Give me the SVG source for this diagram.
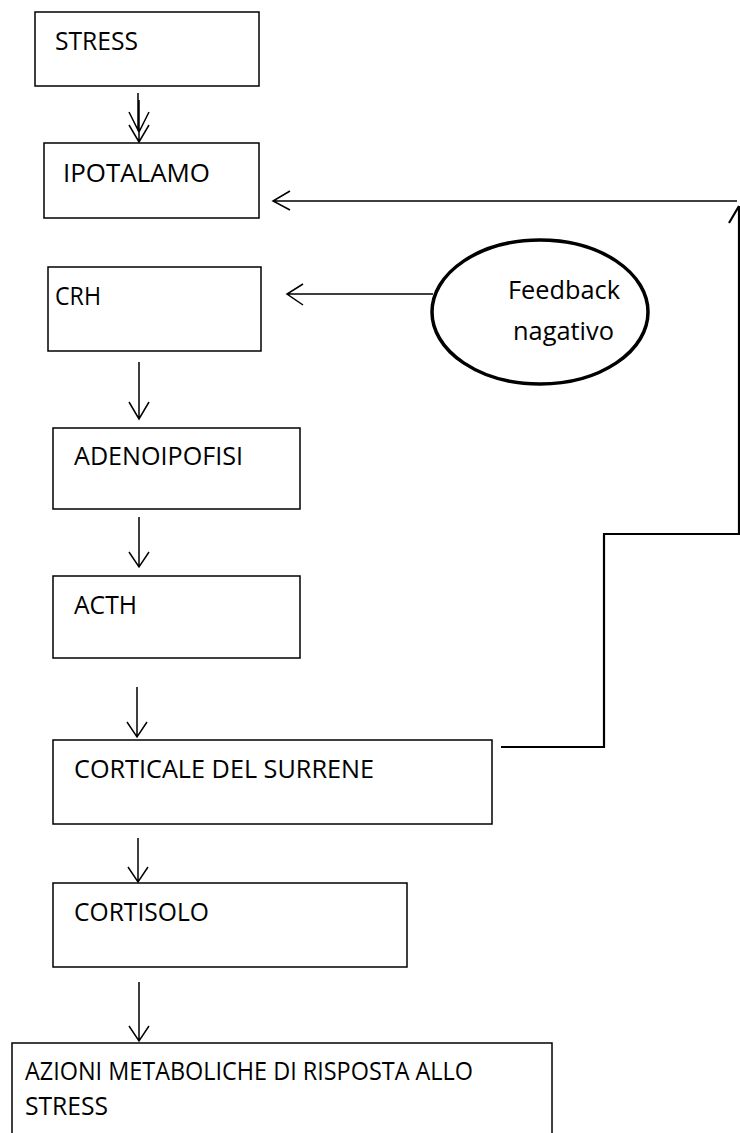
<svg xmlns="http://www.w3.org/2000/svg" width="740" height="1133" viewBox="0 0 740 1133">
<style>
.box{fill:#fff;stroke:#000;stroke-width:1.5}
.t{font-family:"Open Sans","Liberation Sans",sans-serif;font-size:25px;fill:#000}
.arr{fill:none;stroke:#000;stroke-width:1.5}
.fb{fill:none;stroke:#000;stroke-width:2.2}
</style>
<rect width="740" height="1133" fill="#fff"/>
<g id="stress"><rect class="box" x="35" y="12" width="224" height="74"/><text class="t" x="55" y="50" textLength="83" lengthAdjust="spacingAndGlyphs">STRESS</text></g>
<g id="ipotalamo"><rect class="box" x="44" y="143" width="215" height="75"/><text class="t" x="63" y="182" textLength="147" lengthAdjust="spacingAndGlyphs">IPOTALAMO</text></g>
<g id="crh"><rect class="box" x="48" y="267" width="213" height="84"/><text class="t" x="55" y="305" textLength="46" lengthAdjust="spacingAndGlyphs">CRH</text></g>
<g id="adenoipofisi"><rect class="box" x="53" y="428" width="247" height="81"/><text class="t" x="74" y="465" textLength="169" lengthAdjust="spacingAndGlyphs">ADENOIPOFISI</text></g>
<g id="acth"><rect class="box" x="53" y="576" width="247" height="82"/><text class="t" x="74" y="614" textLength="63" lengthAdjust="spacingAndGlyphs">ACTH</text></g>
<g id="corticale"><rect class="box" x="53" y="740" width="439" height="84"/><text class="t" x="74" y="778" textLength="300" lengthAdjust="spacingAndGlyphs">CORTICALE DEL SURRENE</text></g>
<g id="cortisolo"><rect class="box" x="53" y="883" width="354" height="84"/><text class="t" x="74" y="921" textLength="135" lengthAdjust="spacingAndGlyphs">CORTISOLO</text></g>
<g id="azioni"><rect class="box" x="12" y="1043" width="540" height="100"/><text class="t" x="25" y="1080" textLength="448" lengthAdjust="spacingAndGlyphs">AZIONI METABOLICHE DI RISPOSTA ALLO</text><text class="t" x="25" y="1115" textLength="83" lengthAdjust="spacingAndGlyphs">STRESS</text></g>
<g id="feedback"><ellipse cx="540" cy="312" rx="108" ry="72" fill="#fff" stroke="#000" stroke-width="3.5"/><text class="t" x="508" y="299" textLength="112" lengthAdjust="spacingAndGlyphs">Feedback</text><text class="t" x="513" y="340" textLength="101" lengthAdjust="spacingAndGlyphs">nagativo</text></g>
<g id="connectors">
<path class="arr" d="M138 93V131M139 100V142M129 112L139 132L149 112M129 125L139 142L149 125"/>
<path class="arr" d="M139 362V419M129 402L139 419L149 402"/>
<path class="arr" d="M139 517V567M129 552L139 567L149 552"/>
<path class="arr" d="M137 687V737M127 722L137 737L147 722"/>
<path class="arr" d="M138 838V882M128 867L138 882L148 867"/>
<path class="arr" d="M139 982V1041M129 1026L139 1041L149 1026"/>
<path class="arr" d="M433 294H287M303 284L287 294L303 305"/>
<path class="fb" d="M501 747H604V534H739V206M729 223L739 206"/>
<path class="arr" d="M737 201H273M290 191L273 201L290 210"/>
</g>
</svg>
